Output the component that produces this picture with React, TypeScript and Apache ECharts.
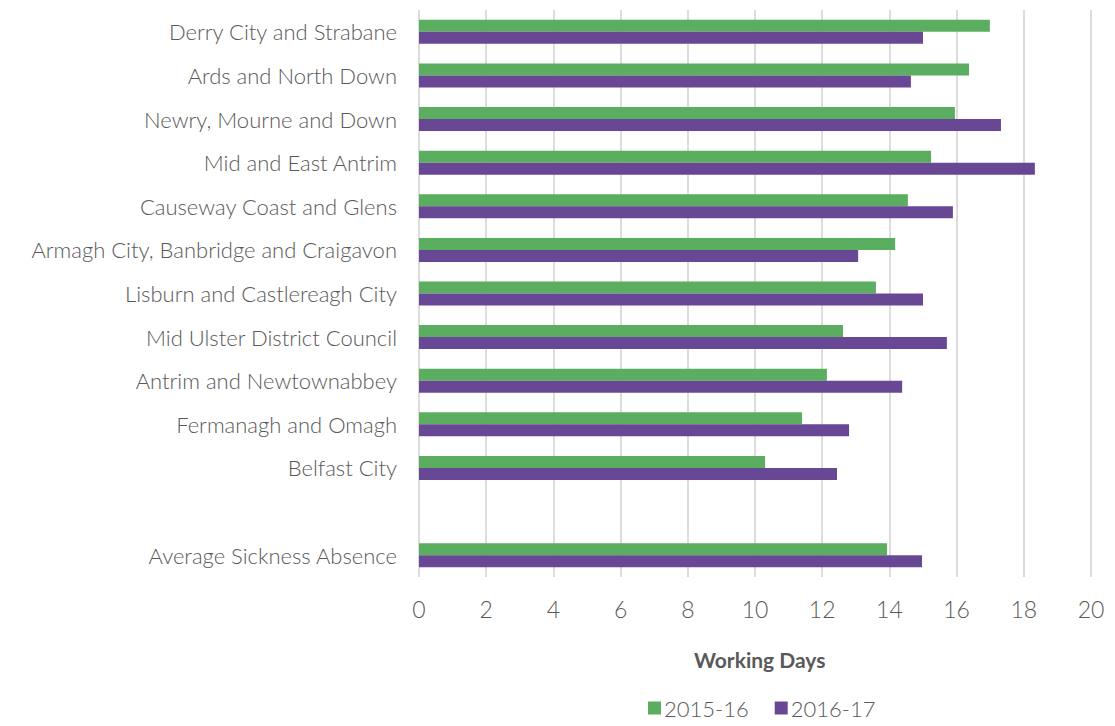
import React, { useEffect, useRef } from "react";
import * as echarts from "echarts";

const categories = [
  "Derry City and Strabane",
  "Ards and North Down",
  "Newry, Mourne and Down",
  "Mid and East Antrim",
  "Causeway Coast and Glens",
  "Armagh City, Banbridge and Craigavon",
  "Lisburn and Castlereagh City",
  "Mid Ulster District Council",
  "Antrim and Newtownabbey",
  "Fermanagh and Omagh",
  "Belfast City",
  "",
  "Average Sickness Absence",
];

const values201516 = [16.99, 16.37, 15.95, 15.24, 14.55, 14.17, 13.6, 12.62, 12.14, 11.4, 10.3, null, 13.93];
const values201617 = [15.0, 14.64, 17.32, 18.33, 15.89, 13.07, 15.0, 15.71, 14.38, 12.8, 12.44, null, 14.97];

const seriesNames = ["2015-16", "2016-17"];
const xTicks = { min: 0, max: 20, interval: 2 };
const axisTitle = "Working Days";

const FONT = "Lato";
const TEXT = "#595959";
const GREEN = "#5BAE5F";
const PURPLE = "#684794";

export default function App() {
  const ref = useRef<HTMLDivElement>(null);
  useEffect(() => {
    if (!ref.current) return;
    const chart = echarts.init(ref.current, undefined, { renderer: "svg" });
    chart.setOption({
      animation: false,
      backgroundColor: "#ffffff",
      textStyle: { fontFamily: FONT },
      grid: { left: 419, right: 24, top: 10, bottom: 149, containLabel: false },
      xAxis: {
        type: "value",
        min: xTicks.min,
        max: xTicks.max,
        interval: xTicks.interval,
        axisLine: { show: false },
        axisTick: { show: false },
        splitLine: { show: true, lineStyle: { color: "#D0D0D0", width: 1.5 } },
        axisLabel: { color: TEXT, fontFamily: FONT, fontWeight: 300, fontSize: 23, margin: 20 },
      },
      yAxis: {
        type: "category",
        data: categories,
        inverse: true,
        axisLine: { show: false },
        axisTick: { show: false },
        axisLabel: { color: TEXT, fontFamily: FONT, fontWeight: 300, fontSize: 22, margin: 22 },
      },
      legend: {
        data: seriesNames,
        top: 692,
        left: 643,
        icon: "rect",
        itemWidth: 13,
        itemHeight: 13,
        itemGap: 26,
        textStyle: { color: TEXT, fontFamily: FONT, fontWeight: 300, fontSize: 22, padding: [0, 0, 0, -2] },
      },
      graphic: [
        {
          type: "text",
          left: 764 - 70,
          top: 649,
          style: {
            text: axisTitle,
            fill: TEXT,
            font: `bold 21px ${FONT}`,
            width: 140,
            align: "center",
          },
        },
      ],
      series: [
        {
          name: seriesNames[0],
          type: "bar",
          data: values201516,
          barWidth: 12,
          barGap: "0%",
          itemStyle: { color: GREEN },
        },
        {
          name: seriesNames[1],
          type: "bar",
          data: values201617,
          barWidth: 12,
          barGap: "0%",
          itemStyle: { color: PURPLE },
        },
      ],
    });
    return () => chart.dispose();
  }, []);
  return <div ref={ref} style={{ position: "absolute", left: 0, top: 0, width: 1115, height: 726 }} />;
}
